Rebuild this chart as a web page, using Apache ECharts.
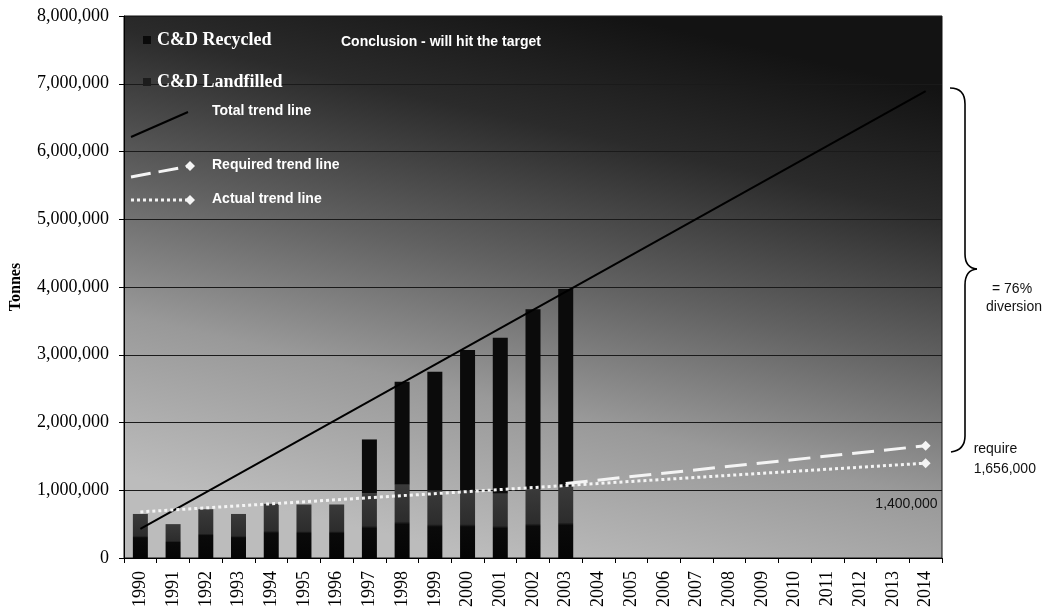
<!DOCTYPE html>
<html>
<head>
<meta charset="utf-8">
<script src="https://cdn.jsdelivr.net/npm/echarts@6/dist/echarts.min.js"></script>
<style>
  html, body { margin: 0; padding: 0; background: #fff; }
  #chart { width: 1056px; height: 614px; }
</style>
</head>
<body>
<div id="chart"></div>
<script>
// Years on the category axis
const years = ['1990','1991','1992','1993','1994','1995','1996','1997','1998','1999','2000','2001','2002',
               '2003','2004','2005','2006','2007','2008','2009','2010','2011','2012','2013','2014'];

// C&D tonnage, 1990-2003
const landfilled = [650000, 500000, 720000, 650000, 800000, 790000, 790000, 950000, 1080000, 1000000, 1000000, 950000, 1020000, 1050000];
const recycled   = [0, 0, 0, 0, 0, 0, 0, 800000, 1520000, 1750000, 2070000, 2300000, 2650000, 2920000];

// Trend lines: [start year, start value, end year, end value]
const totalTrend    = ['1990', 430000, '2014', 6890000];
const actualTrend   = ['1990', 680000, '2014', 1400000];
const requiredTrend = ['2003', 1100000, '2014', 1656000];

// Value axis
const yMin = 0, yMax = 8000000, yStep = 1000000;

const SERIF = '"Liberation Serif", "Times New Roman", serif';
const SANS = '"Liberation Sans", Arial, sans-serif';
const fmt = v => Math.round(v).toLocaleString('en-US');

function trendData(t) {
  return [[t[0], t[1]], { value: [t[2], t[3]], symbol: 'diamond', symbolSize: 10 }];
}

const chart = echarts.init(document.getElementById('chart'), null, { renderer: 'canvas' });

const actualData = trendData(actualTrend);
actualData[1].label = {
  show: true, position: 'inside', align: 'right', verticalAlign: 'middle',
  offset: [12, 41], color: '#111', fontFamily: SANS, fontSize: 14,
  formatter: p => fmt(p.value[1])
};
const requiredData = trendData(requiredTrend);
requiredData[1].label = {
  show: true, position: 'inside', align: 'left', verticalAlign: 'middle',
  offset: [48, 13], color: '#111', fontFamily: SANS, fontSize: 14, lineHeight: 20,
  formatter: p => 'require\n' + fmt(p.value[1])
};

// Curly brace beside the plot, built from curve and line pieces
const braceStyle = { stroke: '#000', lineWidth: 1.6, fill: null };
const brace = [
  { type: 'bezierCurve', shape: { x1: 950, y1: 88, cpx1: 965, cpy1: 88, x2: 965, y2: 104 } },
  { type: 'line', shape: { x1: 965, y1: 104, x2: 965, y2: 254 } },
  { type: 'bezierCurve', shape: { x1: 965, y1: 254, cpx1: 965, cpy1: 268, x2: 977, y2: 269 } },
  { type: 'bezierCurve', shape: { x1: 977, y1: 269, cpx1: 965, cpy1: 270, x2: 965, y2: 285 } },
  { type: 'line', shape: { x1: 965, y1: 285, x2: 965, y2: 436 } },
  { type: 'bezierCurve', shape: { x1: 965, y1: 436, cpx1: 965, cpy1: 450, x2: 951, y2: 452 } }
].map(e => Object.assign(e, { style: braceStyle, z: 20 }));

const option = {
  animation: false,
  backgroundColor: '#ffffff',
  grid: {
    left: 124, right: 114, top: 16, bottom: 56,
    show: true,
    borderColor: '#111', borderWidth: 1,
    backgroundColor: new echarts.graphic.LinearGradient(0.6, 0, 0.45, 1, [
      { offset: 0, color: '#131313' },
      { offset: 0.22, color: '#2b2b2b' },
      { offset: 0.48, color: '#626262' },
      { offset: 0.72, color: '#999999' },
      { offset: 1, color: '#bcbcbc' }
    ])
  },
  xAxis: {
    type: 'category',
    data: years,
    boundaryGap: true,
    axisLine: { lineStyle: { color: '#000', width: 1 } },
    axisTick: { show: true, length: 5, lineStyle: { color: '#000' } },
    axisLabel: { rotate: 90, margin: 13, color: '#000', fontFamily: SERIF, fontSize: 18, interval: 0 }
  },
  yAxis: {
    type: 'value',
    min: yMin, max: yMax, interval: yStep,
    name: 'Tonnes', nameLocation: 'middle', nameGap: 100, nameRotate: 90,
    nameTextStyle: { color: '#000', fontFamily: SERIF, fontWeight: 'bold', fontSize: 16 },
    axisLine: { show: true, lineStyle: { color: '#000' } },
    axisTick: { show: true, length: 5, lineStyle: { color: '#000' } },
    axisLabel: { margin: 15, color: '#000', fontFamily: SERIF, fontSize: 18, formatter: v => fmt(v) },
    splitLine: { show: true, lineStyle: { color: '#1a1a1a', width: 1 } }
  },
  series: [
    {
      name: 'C&D Landfilled', type: 'bar', stack: 'cd', barWidth: 15,
      data: landfilled,
      itemStyle: {
        color: new echarts.graphic.LinearGradient(0, 0, 0, 1, [
          { offset: 0, color: '#3a3a3a' },
          { offset: 0.5, color: '#2c2c2c' },
          { offset: 0.54, color: '#0a0a0a' },
          { offset: 1, color: '#050505' }
        ])
      }
    },
    {
      name: 'C&D Recycled', type: 'bar', stack: 'cd', barWidth: 15,
      data: recycled,
      itemStyle: { color: '#0b0b0b' }
    },
    {
      name: 'Total trend line', type: 'line', data: [[totalTrend[0], totalTrend[1]], [totalTrend[2], totalTrend[3]]],
      symbol: 'none', lineStyle: { color: '#000', width: 2 }, z: 5
    },
    {
      name: 'Actual trend line', type: 'line', data: actualData,
      symbol: 'none', itemStyle: { color: '#f4f4f4' },
      lineStyle: { color: '#f4f4f4', width: 3, type: [3, 3], cap: 'butt' }, z: 6
    },
    {
      name: 'Required trend line', type: 'line', data: requiredData,
      symbol: 'none', itemStyle: { color: '#f4f4f4' },
      lineStyle: { color: '#f4f4f4', width: 3, type: [22, 10] }, z: 7
    }
  ],
  graphic: [
    // legend block inside the plot
    { type: 'rect', shape: { x: 143, y: 36, width: 8, height: 8 }, style: { fill: '#0a0a0a' }, z: 20 },
    { type: 'text', style: { x: 157, y: 40, text: 'C&D Recycled', fill: '#fff', font: 'bold 18px ' + SERIF, verticalAlign: 'middle' }, z: 20 },
    { type: 'rect', shape: { x: 143, y: 78, width: 8, height: 8 }, style: { fill: '#1c1c1c' }, z: 20 },
    { type: 'text', style: { x: 157, y: 82, text: 'C&D Landfilled', fill: '#fff', font: 'bold 18px ' + SERIF, verticalAlign: 'middle' }, z: 20 },
    { type: 'line', shape: { x1: 131, y1: 137, x2: 188, y2: 112 }, style: { stroke: '#000', lineWidth: 2 }, z: 20 },
    { type: 'text', style: { x: 212, y: 111, text: 'Total trend line', fill: '#fff', font: 'bold 14px ' + SANS, verticalAlign: 'middle' }, z: 20 },
    { type: 'polyline', shape: { points: [[131, 177], [190, 166]] }, style: { stroke: '#f4f4f4', lineWidth: 3, lineDash: [20, 8] }, z: 20 },
    { type: 'polygon', shape: { points: [[190, 161], [195, 166], [190, 171], [185, 166]] }, style: { fill: '#f4f4f4' }, z: 20 },
    { type: 'text', style: { x: 212, y: 165, text: 'Required trend line', fill: '#fff', font: 'bold 14px ' + SANS, verticalAlign: 'middle' }, z: 20 },
    { type: 'line', shape: { x1: 131, y1: 200, x2: 188, y2: 200 }, style: { stroke: '#f4f4f4', lineWidth: 3, lineDash: [3, 3] }, z: 20 },
    { type: 'polygon', shape: { points: [[190, 195], [195, 200], [190, 205], [185, 200]] }, style: { fill: '#f4f4f4' }, z: 20 },
    { type: 'text', style: { x: 212, y: 199, text: 'Actual trend line', fill: '#fff', font: 'bold 14px ' + SANS, verticalAlign: 'middle' }, z: 20 },
    { type: 'text', style: { x: 341, y: 42, text: 'Conclusion - will hit the target', fill: '#fff', font: 'bold 14px ' + SANS, verticalAlign: 'middle' }, z: 20 },
    { type: 'text', style: { x: 992, y: 289, text: '= 76%', fill: '#111', font: '14px ' + SANS, verticalAlign: 'middle' }, z: 20 },
    { type: 'text', style: { x: 986, y: 307, text: 'diversion', fill: '#111', font: '14px ' + SANS, verticalAlign: 'middle' }, z: 20 }
  ].concat(brace)
};

chart.setOption(option);
</script>
</body>
</html>
